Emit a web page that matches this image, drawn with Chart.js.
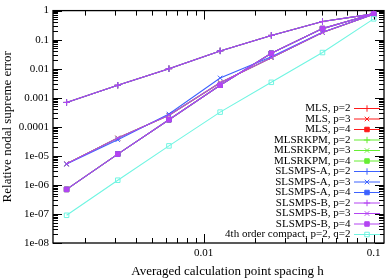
<!DOCTYPE html>
<html lang="en">
<head>
<meta charset="utf-8">
<title>Relative nodal supreme error</title>
<script src="https://cdn.jsdelivr.net/npm/chart.js"></script>
<style>
  html, body { margin: 0; padding: 0; background: #fff; }
  canvas { display: block; }
</style>
</head>
<body>
<canvas id="errorChart" width="388" height="280"></canvas>
<script>
// averaged point spacing h
const spacing = [0.0015625, 0.003125, 0.00625, 0.0125, 0.025, 0.05, 0.1];

// MLS
const mlsP2 = [6.9e-4, 2.7e-3, 1.0e-2, 4.1e-2, 0.14, 0.42, 0.77];
const mlsP3 = [5.3e-6, 4.1e-5, 2.5e-4, 3.3e-3, 0.024, 0.175, 0.75];
const mlsP4 = [7.0e-7, 1.15e-5, 1.75e-4, 2.7e-3, 0.034, 0.24, 0.78];
// MLSRKPM
const rkpmP2 = [6.9e-4, 2.7e-3, 1.0e-2, 4.1e-2, 0.14, 0.42, 0.77];
const rkpmP3 = [5.3e-6, 4.1e-5, 2.5e-4, 3.3e-3, 0.024, 0.175, 0.75];
const rkpmP4 = [7.0e-7, 1.15e-5, 1.75e-4, 2.7e-3, 0.034, 0.24, 0.78];
// SLSMPS-A
const slsAP2 = [6.9e-4, 2.7e-3, 1.0e-2, 4.1e-2, 0.14, 0.42, 0.77];
const slsAP3 = [5.2e-6, 3.6e-5, 2.75e-4, 4.8e-3, 0.026, 0.18, 0.75];
const slsAP4 = [7.0e-7, 1.15e-5, 1.75e-4, 2.7e-3, 0.034, 0.24, 0.78];
// SLSMPS-B
const slsBP2 = [6.9e-4, 2.7e-3, 1.0e-2, 4.1e-2, 0.14, 0.42, 0.77];
const slsBP3 = [5.3e-6, 4.1e-5, 2.5e-4, 3.3e-3, 0.024, 0.175, 0.75];
const slsBP4 = [7.0e-7, 1.15e-5, 1.75e-4, 2.7e-3, 0.034, 0.24, 0.78];
// 4th order compact
const compact = [9.0e-8, 1.45e-6, 2.2e-5, 3.2e-4, 3.4e-3, 0.036, 0.52];

const seriesLabels = [
    'MLS, p=2', 'MLS, p=3', 'MLS, p=4',
    'MLSRKPM, p=2', 'MLSRKPM, p=3', 'MLSRKPM, p=4',
    'SLSMPS-A, p=2', 'SLSMPS-A, p=3', 'SLSMPS-A, p=4',
    'SLSMPS-B, p=2', 'SLSMPS-B, p=3', 'SLSMPS-B, p=4',
    '4th order compact, p=2, q=2'
];
const seriesValues = [mlsP2, mlsP3, mlsP4, rkpmP2, rkpmP3, rkpmP4,
    slsAP2, slsAP3, slsAP4, slsBP2, slsBP3, slsBP4, compact];

// tick labels
const yDecades = [0, -1, -2, -3, -4, -5, -6, -7, -8];
const yTickLabels = ['1', '0.1', '0.01', '0.001', '0.0001', '1e-05', '1e-06', '1e-07', '1e-08'];
const xDecades = [-2, -1];
const xTickLabels = ['0.01', '0.1'];
const xTitle = 'Averaged calculation point spacing h';

const colors = ['#ff1a1a', '#66ee33', '#3d62ff', '#b444f2', '#70f5e2'];
const styles = [
    { pointStyle: 'cross', radius: 3.2, fill: true },
    { pointStyle: 'crossRot', radius: 3.2, fill: true },
    { pointStyle: 'rect', radius: 3.2, fill: true }
];
const FONT = '"Liberation Serif", "Times New Roman", serif';

const datasets = seriesValues.map((vals, i) => {
    const family = Math.floor(i / 3);
    const st = i < 12 ? styles[i % 3] : { pointStyle: 'rect', radius: 3.2, fill: false };
    const c = colors[family];
    return {
        label: seriesLabels[i],
        data: vals.map((v, k) => ({ x: spacing[k], y: v })),
        borderColor: c,
        backgroundColor: st.fill ? c : 'rgba(255,255,255,0)',
        borderWidth: 1.1,
        pointStyle: st.pointStyle,
        pointRadius: st.radius,
        pointBorderWidth: 1,
        pointBorderColor: c,
        pointBackgroundColor: st.fill ? c : 'rgba(255,255,255,0)',
        fill: false,
        tension: 0,
        order: seriesValues.length - i
    };
});

const tickLabel = (v, decades, labels) => {
    const l = Math.log10(v);
    const e = Math.round(l);
    if (Math.abs(l - e) > 1e-6) return '';
    const i = decades.indexOf(e);
    return i >= 0 ? labels[i] : '';
};

// frame and inside tick marks on all four sides
const framePlugin = {
    id: 'frame',
    beforeDatasetsDraw(chart) {
        const { ctx, chartArea: a, scales } = chart;
        ctx.save();
        ctx.strokeStyle = '#000';
        ctx.lineWidth = 1;
        ctx.beginPath();
        for (let e = -3; e <= -1; e++) {
            for (let m = 1; m <= 9; m++) {
                const v = m * Math.pow(10, e);
                if (v < scales.x.min || v > scales.x.max) continue;
                const px = Math.round(scales.x.getPixelForValue(v)) + 0.5;
                const len = m === 1 ? 9 : 5;
                ctx.moveTo(px, a.bottom); ctx.lineTo(px, a.bottom - len);
                ctx.moveTo(px, a.top); ctx.lineTo(px, a.top + len);
            }
        }
        for (let e = -8; e <= 0; e++) {
            for (let m = 1; m <= 9; m++) {
                const v = m * Math.pow(10, e);
                if (v < scales.y.min * 0.999 || v > scales.y.max * 1.001) continue;
                const py = Math.round(scales.y.getPixelForValue(v)) + 0.5;
                const len = m === 1 ? 9 : 5;
                ctx.moveTo(a.left, py); ctx.lineTo(a.left + len, py);
                ctx.moveTo(a.right, py); ctx.lineTo(a.right - len, py);
            }
        }
        ctx.stroke();
        ctx.lineWidth = 1.3;
        ctx.strokeRect(a.left, a.top, a.right - a.left, a.bottom - a.top);
        ctx.restore();
    },
    afterDraw(chart) {
        // x axis title, sits a little right of the plot centre like the original
        const ctx = chart.ctx;
        ctx.save();
        ctx.font = '13px ' + FONT;
        ctx.fillStyle = '#000';
        ctx.textAlign = 'center';
        ctx.textBaseline = 'middle';
        ctx.fillText(xTitle, 227.5, 272);
        ctx.restore();
    }
};

// gnuplot style key inside the plot, text right aligned, sample on the right
const keyPlugin = {
    id: 'key',
    afterDatasetsDraw(chart) {
        const ctx = chart.ctx;
        const n = chart.data.datasets.length;
        const textRight = 350.5, x0 = 354, x1 = 380, rowH = 10.5, lastY = 234;
        ctx.save();
        ctx.font = '11px ' + FONT;
        ctx.textAlign = 'right';
        ctx.textBaseline = 'middle';
        chart.data.datasets.forEach((ds, i) => {
            const y = lastY - (n - 1 - i) * rowH;
            ctx.fillStyle = '#000';
            ctx.fillText(ds.label, textRight, y + 0.5);
            ctx.strokeStyle = ds.borderColor;
            ctx.lineWidth = 1;
            ctx.beginPath();
            ctx.moveTo(x0, y + 0.5); ctx.lineTo(x1, y + 0.5);
            ctx.stroke();
            ctx.fillStyle = ds.pointBackgroundColor;
            Chart.helpers.drawPoint(ctx, {
                pointStyle: ds.pointStyle, radius: ds.pointRadius,
                rotation: 0, borderWidth: 1
            }, (x0 + x1) / 2, y + 0.5);
        });
        ctx.restore();
    }
};

new Chart(document.getElementById('errorChart').getContext('2d'), {
    type: 'line',
    data: { datasets: datasets },
    options: {
        responsive: false,
        animation: false,
        devicePixelRatio: 1,
        layout: { autoPadding: false, padding: { top: 6, right: 1, left: 0, bottom: 0 } },
        plugins: { legend: { display: false }, tooltip: { enabled: false } },
        scales: {
            x: {
                type: 'logarithmic',
                min: 0.0013,
                max: 0.115,
                grid: { display: false, drawTicks: false },
                border: { display: false },
                afterFit(scale) { scale.height = 37; },
                ticks: {
                    autoSkip: false, maxRotation: 0, padding: 4,
                    color: '#000', font: { family: FONT, size: 11 },
                    callback: (v) => tickLabel(v, xDecades, xTickLabels)
                }
            },
            y: {
                type: 'logarithmic',
                min: 1e-8,
                max: 1,
                grid: { display: false, drawTicks: false },
                border: { display: false },
                afterFit(scale) { scale.width = 53; },
                ticks: {
                    autoSkip: false, padding: 4,
                    color: '#000', font: { family: FONT, size: 11 },
                    callback: (v) => tickLabel(v, yDecades, yTickLabels)
                },
                title: {
                    display: true, text: 'Relative nodal supreme error',
                    color: '#000', font: { family: FONT, size: 13 }, padding: 0
                }
            }
        }
    },
    plugins: [framePlugin, keyPlugin]
});
</script>
</body>
</html>
